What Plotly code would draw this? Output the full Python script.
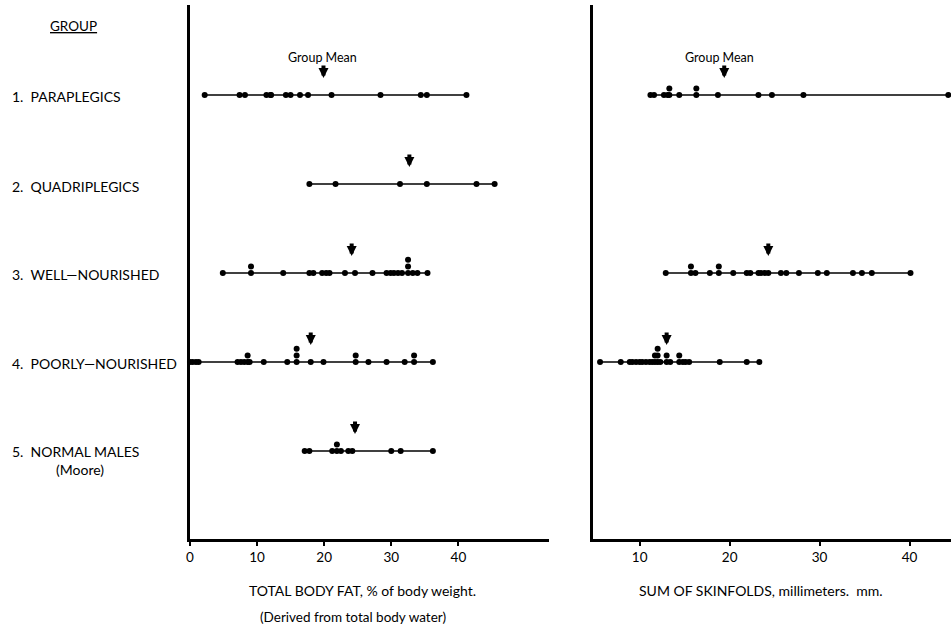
import plotly.graph_objects as go

# ---------------- data ----------------
group_labels = ["1.\u00a0\u00a0PARAPLEGICS", "2.\u00a0\u00a0QUADRIPLEGICS", "3.\u00a0\u00a0WELL\u2014NOURISHED",
                "4.\u00a0\u00a0POORLY\u2014NOURISHED", "5.\u00a0\u00a0NORMAL MALES"]
group_rows = [1, 2, 3, 4, 5]

fat_paraplegic = [2.2, 7.4, 8.2, 11.4, 12.0, 12.1, 14.3, 15.0, 16.4, 17.6, 21.1, 28.4, 34.4, 35.3, 41.2]
fat_quadriplegic = [17.8, 21.7, 31.3, 35.3, 42.7, 45.4]
fat_well = [4.9, 9.1, 9.1, 13.9, 17.8, 18.4, 19.7, 20.3, 20.8, 23.1, 24.6, 27.2, 29.3, 29.9, 30.4,
            31.0, 31.6, 32.5, 32.5, 32.5, 33.2, 33.9, 35.4]
fat_poor = [0.0, 0.4, 0.9, 1.3, 7.1, 7.6, 8.1, 8.6, 8.6, 8.9, 11.0, 14.5, 15.9, 15.9, 15.9, 18.0, 19.9,
            24.7, 24.7, 26.6, 29.3, 32.0, 33.4, 33.4, 36.2]
fat_normal = [17.1, 17.8, 21.2, 21.9, 21.9, 22.5, 23.6, 24.2, 30.0, 31.4, 36.2]
fat_means = [19.9, 32.7, 24.1, 18.0, 24.6]

skin_paraplegic = [11.2, 11.6, 12.7, 13.1, 13.3, 13.3, 14.4, 16.3, 16.3, 18.7, 23.2, 24.7, 28.2, 44.3]
skin_well = [12.9, 15.7, 15.7, 16.2, 17.8, 18.8, 18.8, 20.4, 21.9, 22.3, 23.2, 23.5, 23.9, 24.3, 25.7,
             26.3, 27.7, 29.8, 30.8, 33.7, 34.7, 35.8, 40.1]
skin_poor = [5.6, 7.9, 8.9, 9.2, 9.6, 10.0, 10.3, 10.7, 11.1, 11.4, 11.7, 11.7, 12.0, 12.0, 12.0, 12.3,
             13.0, 13.0, 13.4, 14.4, 14.4, 14.8, 15.1, 15.5, 18.9, 21.9, 23.3]
skin_means = [19.4, None, 24.3, 13.0, None]

fat_ticks = [0, 10, 20, 30, 40]
skin_ticks = [10, 20, 30, 40]

fat_title = "TOTAL BODY FAT, % of body weight."
fat_subtitle = "(Derived from total body water)"
skin_title = "SUM OF SKINFOLDS, millimeters.  mm."

fat_series = [fat_paraplegic, fat_quadriplegic, fat_well, fat_poor, fat_normal]
skin_series = [skin_paraplegic, None, skin_well, skin_poor, None]

# ---------------- figure ----------------
W, H = 951, 627
FONT = "Lato"
STACK = 0.074  # vertical offset (row units) for repeated values

fig = go.Figure()


def add_row(values, row, xa, ya):
    fig.add_trace(go.Scatter(x=[min(values), max(values)], y=[row, row], mode="lines",
                             line=dict(color="black", width=1.4), xaxis=xa, yaxis=ya,
                             hoverinfo="skip", showlegend=False, cliponaxis=False))
    seen = {}
    xs, ys = [], []
    for v in values:
        k = seen.get(v, 0)
        seen[v] = k + 1
        xs.append(v)
        ys.append(row - k * STACK)
    fig.add_trace(go.Scatter(x=xs, y=ys, mode="markers",
                             marker=dict(color="black", size=6),
                             xaxis=xa, yaxis=ya, showlegend=False, cliponaxis=False))


for vals, row in zip(fat_series, group_rows):
    add_row(vals, row, "x", "y")
for vals, row in zip(skin_series, group_rows):
    if vals:
        add_row(vals, row, "x2", "y2")

annotations = []


def arrow(x, row, xref, yref):
    annotations.append(dict(x=x, y=row, xref=xref, yref=yref, text="", showarrow=True,
                            ax=0, ay=-31, standoff=17, arrowhead=2, arrowsize=0.5,
                            arrowwidth=4, arrowcolor="black"))


for m, row in zip(fat_means, group_rows):
    arrow(m, row, "x", "y")
for m, row in zip(skin_means, group_rows):
    if m is not None:
        arrow(m, row, "x2", "y2")


def ptext(text, px, py, size=13, xanchor="left"):
    annotations.append(dict(text=text, x=px / W, y=1 - py / H, xref="paper", yref="paper",
                            xanchor=xanchor, yanchor="middle", showarrow=False,
                            font=dict(family=FONT, size=size, color="black")))


ptext("<u>GROUP</u>", 70, 26, 13.5, "center")
label_y = [97, 186, 274, 363, 452]
for lab, py in zip(group_labels, label_y):
    ptext(lab, 6, py, 14)
ptext("(Moore)", 76, 469, 14, "center")
ptext("Group Mean", 320, 57, 12.5, "center")
ptext("Group Mean", 719, 57, 12.5, "center")
ptext(fat_title, 360, 590, 14, "center")
ptext(fat_subtitle, 350, 617, 13.5, "center")
ptext(skin_title, 760, 590, 14, "center")

ydom = [1 - 539 / H, 1 - 5 / H]
yrange = [5.989, -0.011]

axis_common = dict(showline=True, linecolor="black", linewidth=3, showgrid=False, zeroline=False,
                   ticks="outside", ticklen=4, tickwidth=2, tickcolor="black",
                   tickfont=dict(family=FONT, size=13.5, color="black"), fixedrange=True)

fig.update_layout(
    width=W, height=H,
    margin=dict(l=0, r=0, t=0, b=0),
    paper_bgcolor="white", plot_bgcolor="white",
    showlegend=False,
    xaxis=dict(domain=[186.7 / W, 547 / W], range=[0, (547 - 186.7) / 6.74], anchor="y",
               tickvals=fat_ticks, **axis_common),
    xaxis2=dict(domain=[591.7 / W, 1.0], range=[4.84, 44.6], anchor="y2",
                tickvals=skin_ticks, **axis_common),
    yaxis=dict(domain=ydom, range=yrange, anchor="x", showline=True, linecolor="black",
               linewidth=3, showgrid=False, zeroline=False, showticklabels=False, ticks="",
               fixedrange=True),
    yaxis2=dict(domain=ydom, range=yrange, anchor="x2", showline=True, linecolor="black",
                linewidth=3, showgrid=False, zeroline=False, showticklabels=False, ticks="",
                fixedrange=True),
    annotations=annotations,
)

fig.write_html("out.html", config={"displayModeBar": False},
               post_script="document.body.style.margin='0';")
